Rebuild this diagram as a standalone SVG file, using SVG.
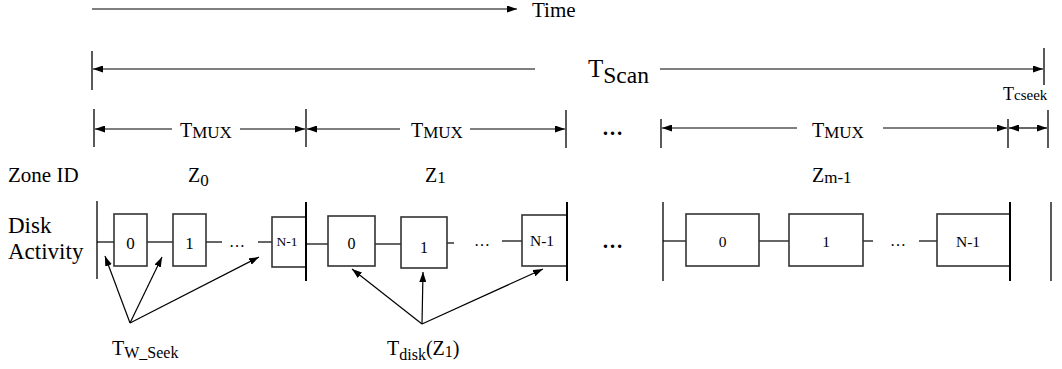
<svg xmlns="http://www.w3.org/2000/svg" width="1062" height="369" viewBox="0 0 1062 369" font-family="'Liberation Serif', 'Times New Roman', 'DejaVu Serif', serif">
<defs>
<marker id="ah" markerWidth="10" markerHeight="7" refX="10" refY="3.5" orient="auto" markerUnits="userSpaceOnUse"><path d="M0,0 L10,3.5 L0,7 z" fill="#000"/></marker>
<style>
text, tspan { font-family: 'Liberation Serif', 'Times New Roman', 'DejaVu Serif', serif; fill: #000; }
.ln{stroke:#000;stroke-width:1.2;fill:none}
.bar{stroke:#000;stroke-width:1.3}
.bbar{stroke:#000;stroke-width:2}
.box{fill:#fff;stroke:#333;stroke-width:1.6}
.ar{stroke:#000;stroke-width:1.2;fill:none;marker-end:url(#ah)}
.lbl{text-anchor:middle}
.dots{font-size:21px;font-weight:bold}
</style>
</defs>
<rect width="1062" height="369" fill="#fff"/>

<g id="time-axis">
<line class="ar" x1="92" y1="9" x2="517" y2="9"/>
<text x="532" y="17" font-size="21">Time</text>
</g>

<g id="tscan">
<line class="bar" x1="92" y1="51" x2="92" y2="90"/>
<line class="bar" x1="1044" y1="48" x2="1044" y2="85"/>
<line class="ar" x1="535" y1="69" x2="93" y2="69" style="stroke:#555;stroke-width:1.6"/>
<line class="ar" x1="660" y1="69" x2="1043" y2="69"/>
<text x="588" y="77" font-size="25">T<tspan font-size="23.5" dy="6">Scan</tspan></text>
</g>

<g id="tmux-row">
<line class="bar" x1="94" y1="109" x2="94" y2="147"/>
<line class="bar" x1="306" y1="109" x2="306" y2="147"/>
<line class="bar" x1="566" y1="110" x2="566" y2="148"/>
<line class="bar" x1="661" y1="119" x2="661" y2="148"/>
<line class="bar" x1="1008" y1="119" x2="1008" y2="148"/>
<line class="bar" x1="1048" y1="110" x2="1048" y2="148"/>
<line class="ar" x1="172" y1="129" x2="95" y2="129"/>
<line class="ar" x1="240" y1="129" x2="305" y2="129"/>
<text x="180" y="137" font-size="20">T<tspan font-size="17" dy="1">MUX</tspan></text>
<line class="ar" x1="400" y1="129" x2="307" y2="129"/>
<line class="ar" x1="470" y1="129" x2="565" y2="129"/>
<text x="411" y="137" font-size="20">T<tspan font-size="17" dy="1">MUX</tspan></text>
<text x="602" y="135" class="dots">…</text>
<line class="ar" x1="797" y1="128" x2="662" y2="128"/>
<line class="ar" x1="883" y1="128" x2="1007" y2="128"/>
<text x="812" y="137" font-size="20">T<tspan font-size="17" dy="1">MUX</tspan></text>
<line class="ar" x1="1028" y1="128" x2="1009" y2="128"/>
<line class="ar" x1="1028" y1="128" x2="1047" y2="128"/>
<text x="1003" y="100" font-size="18">T<tspan font-size="15">cseek</tspan></text>
</g>

<g id="zone-row">
<text x="8" y="182" font-size="21">Zone ID</text>
<text x="188" y="182" font-size="20">Z<tspan font-size="17" dy="4">0</tspan></text>
<text x="425" y="182" font-size="20">Z<tspan font-size="17" dy="1">1</tspan></text>
<text x="812" y="182" font-size="20">Z<tspan font-size="17" dy="1">m-1</tspan></text>
</g>

<g id="disk-label">
<text x="8" y="233" font-size="23">Disk</text>
<text x="8" y="259" font-size="23">Activity</text>
</g>

<g id="zone0">
<line class="bar" x1="97" y1="201" x2="97" y2="279"/>
<line class="ln" x1="97" y1="242" x2="114" y2="242"/>
<line class="ln" x1="147" y1="242" x2="173" y2="242"/>
<line class="ln" x1="206" y1="242" x2="222" y2="242"/>
<line class="ln" x1="258" y1="242" x2="272" y2="242"/>
<text x="229" y="247" font-size="16">…</text>
<rect class="box" x="114" y="214" width="33" height="52"/>
<rect class="box" x="173" y="214" width="33" height="52"/>
<rect class="box" x="272" y="217" width="34" height="50"/>
<text class="lbl" x="130.5" y="249" font-size="17">0</text>
<text class="lbl" x="189.5" y="249" font-size="17">1</text>
<text class="lbl" x="287" y="246" font-size="13.5">N-1</text>
<line class="bbar" x1="306" y1="202" x2="306" y2="281"/>
</g>

<g id="zone1">
<line class="ln" x1="306" y1="244" x2="328" y2="244"/>
<line class="ln" x1="375" y1="244" x2="401" y2="244"/>
<line class="ln" x1="447" y1="243" x2="454" y2="243"/>
<line class="ln" x1="502" y1="241" x2="522" y2="241"/>
<text x="474" y="246" font-size="16">…</text>
<rect class="box" x="328" y="216" width="47" height="50"/>
<rect class="box" x="401" y="217" width="46" height="51"/>
<rect class="box" x="522" y="215" width="45" height="51"/>
<text class="lbl" x="351.5" y="249" font-size="16">0</text>
<text class="lbl" x="424" y="253" font-size="16">1</text>
<text class="lbl" x="542" y="246" font-size="15.5">N-1</text>
<line class="bbar" x1="567" y1="202" x2="567" y2="281"/>
</g>

<g id="gap-dots">
<text x="602" y="248" class="dots">…</text>
</g>

<g id="zone-m1">
<line class="bar" x1="663" y1="202" x2="663" y2="281"/>
<line class="ln" x1="663" y1="241" x2="686" y2="241"/>
<line class="ln" x1="759" y1="241" x2="789" y2="241"/>
<line class="ln" x1="863" y1="241" x2="873" y2="241"/>
<line class="ln" x1="919" y1="241" x2="937" y2="241"/>
<text x="890" y="246" font-size="16">…</text>
<rect class="box" x="686" y="214" width="73" height="52"/>
<rect class="box" x="789" y="214" width="74" height="52"/>
<rect class="box" x="937" y="214" width="73" height="52"/>
<text class="lbl" x="722.5" y="247" font-size="15.5">0</text>
<text class="lbl" x="826" y="247" font-size="15.5">1</text>
<text class="lbl" x="968" y="247" font-size="15.5">N-1</text>
<line class="bbar" x1="1010" y1="202" x2="1010" y2="281"/>
<line class="bar" x1="1051" y1="202" x2="1051" y2="281"/>
</g>

<g id="connectors">
<line class="ar" x1="130" y1="323" x2="105" y2="256"/>
<line class="ar" x1="130" y1="323" x2="162" y2="257"/>
<line class="ar" x1="130" y1="323" x2="259" y2="257"/>
<line class="ar" x1="422" y1="324" x2="352" y2="269"/>
<line class="ar" x1="422" y1="324" x2="423" y2="272"/>
<line class="ar" x1="422" y1="324" x2="543" y2="269"/>
</g>

<g id="tw-seek">
<text x="112" y="355" font-size="20">T<tspan font-size="16" dy="3">W_Seek</tspan></text>
</g>
<g id="tdisk">
<text x="387" y="355" font-size="20">T<tspan font-size="16" dy="5">disk</tspan><tspan dy="-5">(Z</tspan><tspan font-size="16" dy="2">1</tspan><tspan dy="-2">)</tspan></text>
</g>
</svg>
